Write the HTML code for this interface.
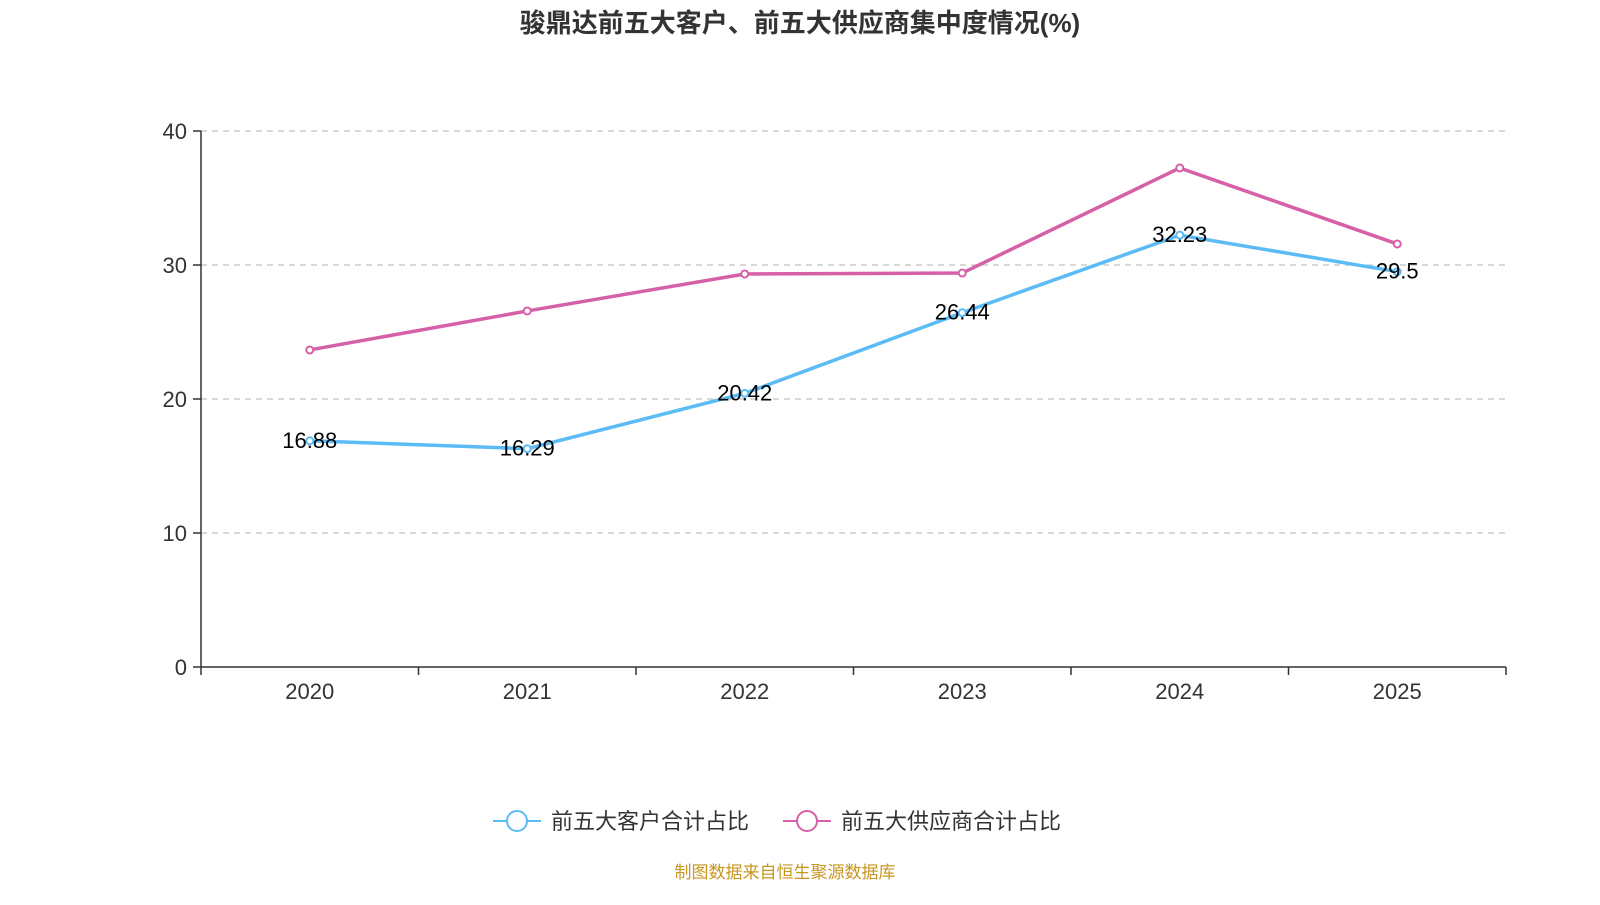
<!DOCTYPE html>
<html><head><meta charset="utf-8"><style>
body{margin:0;background:#fff;width:1600px;height:900px;overflow:hidden;font-family:"Liberation Sans","Noto Sans CJK SC",sans-serif}
</style></head><body>
<svg id="chart" width="1600" height="900" style="font-family:'Liberation Sans','Noto Sans CJK SC',sans-serif">
<text x="800" y="32" text-anchor="middle" font-size="26" font-weight="bold" fill="#333">骏鼎达前五大客户、前五大供应商集中度情况(%)</text>
<g id="grid"></g><g id="axes"></g><g id="series"></g>
<g>
<g><line x1="493" y1="821" x2="541" y2="821" stroke="#5bbcf5" stroke-width="2"/><circle cx="517" cy="821" r="10" fill="#fff" stroke="#5bbcf5" stroke-width="2"/><text x="551" y="829" font-size="22" fill="#333">前五大客户合计占比</text></g>
<g><line x1="783" y1="821" x2="831" y2="821" stroke="#d660a8" stroke-width="2"/><circle cx="807" cy="821" r="10" fill="#fff" stroke="#d660a8" stroke-width="2"/><text x="841" y="829" font-size="22" fill="#333">前五大供应商合计占比</text></g>
</g>
<text x="785" y="878" text-anchor="middle" font-size="17" fill="#c8961e">制图数据来自恒生聚源数据库</text>
</svg>
<script>
const categories=["2020","2021","2022","2023","2024","2025"];
const customers=[16.88,16.29,20.42,26.44,32.23,29.5];
const suppliers=[23.66,26.57,29.33,29.4,37.24,31.57];
const yTicks=[0,10,20,30,40];
const NS="http://www.w3.org/2000/svg";
const x0=201,x1=1506,yBase=667,yTop=131,yMax=40;
const bw=(x1-x0)/categories.length;
const xs=i=>x0+bw*(i+0.5);
const ys=v=>yBase-(v/yMax)*(yBase-yTop);
function mk(tag,attrs,parent,text){const e=document.createElementNS(NS,tag);for(const k in attrs)e.setAttribute(k,attrs[k]);if(text!=null)e.textContent=text;parent.appendChild(e);return e;}
const grid=document.getElementById('grid'),axes=document.getElementById('axes'),series=document.getElementById('series');
yTicks.forEach(t=>{const y=ys(t);
 if(t>0){const g=mk('line',{x1:x0,x2:x1,y1:y,y2:y,stroke:'#ccc','stroke-dasharray':'6,5','stroke-width':1.5},grid);
 
 }
 mk('line',{x1:x0-8,x2:x0,y1:y,y2:y,stroke:'#333','stroke-width':1.5},axes);
 const l=mk('text',{x:x0-14,y:y+8,'text-anchor':'end','font-size':22,fill:'#333'},axes,String(t));
 
 
});
mk('line',{x1:x0,x2:x0,y1:yTop,y2:yBase,stroke:'#333','stroke-width':1.5},axes);
mk('line',{x1:x0,x2:x1,y1:yBase,y2:yBase,stroke:'#333','stroke-width':1.5},axes);
for(let i=0;i<=categories.length;i++){const x=x0+bw*i;mk('line',{x1:x,x2:x,y1:yBase,y2:yBase+8,stroke:'#333','stroke-width':1.5},axes);}
categories.forEach((c,i)=>{const l=mk('text',{x:xs(i),y:699,'text-anchor':'middle','font-size':22,fill:'#333'},axes,c);
 
 });
function drawSeries(vals,color,name,labels){
 const p=mk('polyline',{points:vals.map((v,i)=>xs(i)+','+ys(v)).join(' '),fill:'none',stroke:color,'stroke-width':3.5},series);
 
 
 vals.forEach((v,i)=>{const c=mk('circle',{cx:xs(i),cy:ys(v),r:3.5,fill:'#fff',stroke:color,'stroke-width':2},series);
  
  
  if(labels){const t=mk('text',{x:xs(i),y:ys(v)+7,'text-anchor':'middle','font-size':22,fill:'#000'},series,String(v));
   
   }});
}
drawSeries(suppliers,'#d660a8','suppliers',false);
drawSeries(customers,'#5bbcf5','customers',true);
</script>
</body></html>
